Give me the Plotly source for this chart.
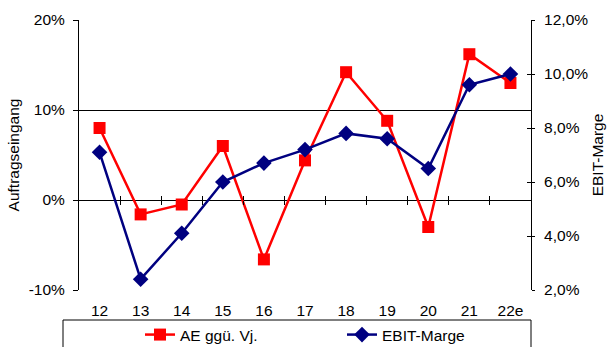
import plotly.graph_objects as go

# Years shown on the category axis
categories = ["12", "13", "14", "15", "16", "17", "18", "19", "20", "21", "22e"]
# Order intake change vs. prior year, in percent (left axis)
ae_ggue_vj = [8.0, -1.6, -0.5, 6.0, -6.6, 4.4, 14.2, 8.8, -3.0, 16.2, 13.0]
# EBIT margin, in percent (right axis)
ebit_marge = [7.1, 2.4, 4.1, 6.0, 6.7, 7.2, 7.8, 7.6, 6.5, 9.6, 10.0]

left_ticks = [-10, 0, 10, 20]
left_labels = ["-10%", "0%", "10%", "20%"]
right_ticks = [2, 4, 6, 8, 10, 12]
right_labels = ["2,0%", "4,0%", "6,0%", "8,0%", "10,0%", "12,0%"]

FONT = "Liberation Sans, Arial, sans-serif"
RED = "#FF0000"
NAVY = "#000080"
FS = 15.5

xpos = list(range(len(categories)))

fig = go.Figure()
fig.add_trace(go.Scatter(
    x=xpos, y=ae_ggue_vj, name="AE ggü. Vj.", mode="lines+markers",
    line=dict(color=RED, width=2.5),
    marker=dict(symbol="square", size=12, color=RED),
    xaxis="x", yaxis="y",
))
fig.add_trace(go.Scatter(
    x=xpos, y=ebit_marge, name="EBIT-Marge", mode="lines+markers",
    line=dict(color=NAVY, width=2.5),
    marker=dict(symbol="diamond", size=12, color=NAVY),
    xaxis="x", yaxis="y2",
))

W, H = 613, 347
L, R, T, B = 79, 82, 20, 57
plot_w = W - L - R
plot_h = H - T - B


def px_x(p):
    return (p - L) / plot_w


def px_y(p):
    return (H - B - p) / plot_h


xrange = [-0.5, len(categories) - 0.5]
boundaries = [i + 0.5 for i in range(len(categories) - 1)]
zero_pos = (0 - left_ticks[0]) / (left_ticks[-1] - left_ticks[0])

fig.update_layout(
    width=W, height=H,
    margin=dict(l=L, r=R, t=T, b=B, pad=0, autoexpand=False),
    paper_bgcolor="white", plot_bgcolor="white",
    font=dict(family=FONT, size=FS, color="black"),
    showlegend=True,
    legend=dict(
        orientation="h", x=px_x(140), xanchor="left",
        y=px_y(335), yanchor="middle",
        bgcolor="rgba(0,0,0,0)", borderwidth=0,
        entrywidth=157, entrywidthmode="pixels",
        font=dict(family=FONT, size=FS, color="black"),
        itemclick=False,
    ),
    xaxis=dict(
        range=xrange, tickmode="array", tickvals=xpos, ticktext=categories,
        showgrid=False, zeroline=False, showline=False, ticks="",
        tickfont=dict(size=FS), ticklabelstandoff=9, fixedrange=True,
    ),
    # tick marks sitting on the 0% line between categories
    xaxis2=dict(
        range=xrange, overlaying="x", anchor="free", position=zero_pos,
        tickmode="array", tickvals=boundaries, showticklabels=False,
        ticks="outside", ticklen=4, tickcolor="black", tickwidth=1,
        showgrid=False, zeroline=False, showline=False,
    ),
    xaxis3=dict(
        range=xrange, overlaying="x", anchor="free", position=zero_pos,
        tickmode="array", tickvals=boundaries, showticklabels=False,
        ticks="inside", ticklen=4, tickcolor="black", tickwidth=1,
        showgrid=False, zeroline=False, showline=False,
    ),
    yaxis=dict(
        range=[left_ticks[0], left_ticks[-1]], tickmode="array",
        tickvals=left_ticks, ticktext=left_labels,
        showgrid=True, gridcolor="black", gridwidth=1,
        zeroline=False, showline=True, linecolor="black", linewidth=1,
        ticks="outside", ticklen=5, tickcolor="black", ticklabelstandoff=5,
        title=dict(text="Auftragseingang", font=dict(size=FS), standoff=5),
        fixedrange=True,
    ),
    yaxis2=dict(
        range=[right_ticks[0], right_ticks[-1]], tickmode="array",
        tickvals=right_ticks, ticktext=right_labels,
        overlaying="y", side="right", anchor="x",
        showgrid=False, zeroline=False,
        showline=True, linecolor="black", linewidth=1,
        ticks="outside", ticklen=3, tickcolor="black", ticklabelstandoff=6,
        title=dict(text="EBIT-Marge", font=dict(size=FS), standoff=4),
        fixedrange=True,
    ),
    yaxis3=dict(
        range=[right_ticks[0], right_ticks[-1]], tickmode="array",
        tickvals=right_ticks, showticklabels=False,
        overlaying="y", side="right", anchor="x",
        showgrid=False, zeroline=False, showline=False,
        ticks="inside", ticklen=4, tickcolor="black",
    ),
    shapes=[
        # legend frame
        dict(type="rect", xref="paper", yref="paper",
             x0=px_x(63), x1=px_x(531), y0=px_y(352), y1=px_y(320),
             line=dict(color="black", width=1), fillcolor="rgba(0,0,0,0)",
             layer="above"),
    ],
)

# empty traces so the overlay axes get drawn
fig.add_trace(go.Scatter(x=[None], y=[None], xaxis="x2", yaxis="y", showlegend=False, hoverinfo="skip"))
fig.add_trace(go.Scatter(x=[None], y=[None], xaxis="x3", yaxis="y3", showlegend=False, hoverinfo="skip"))

fig.write_html("out.html")
